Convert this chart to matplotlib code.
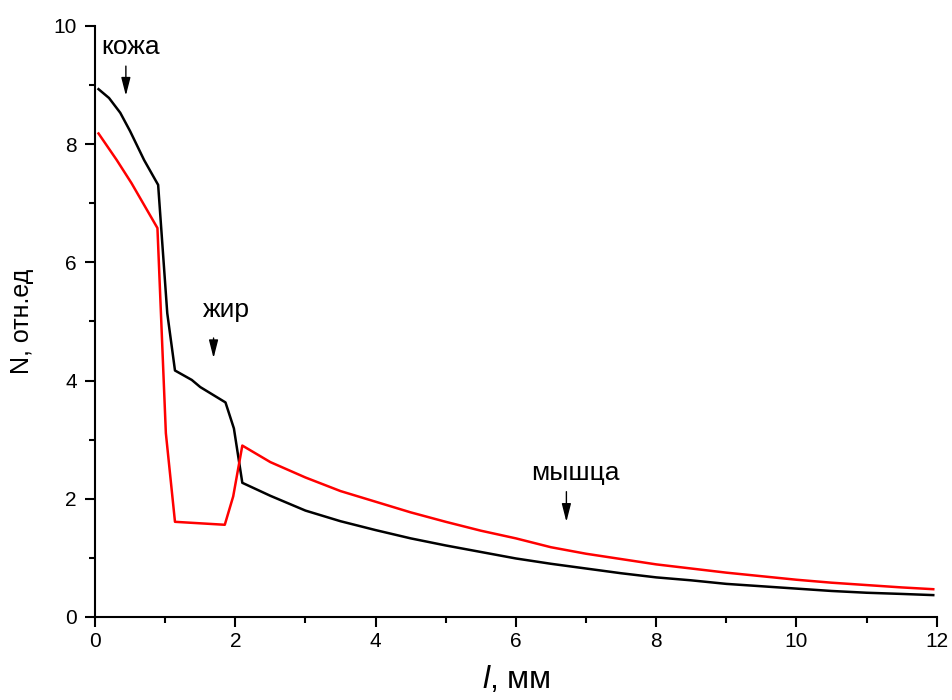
import matplotlib.pyplot as plt
from matplotlib.ticker import MultipleLocator

plt.rcParams['font.family'] = ['Liberation Sans', 'DejaVu Sans']
plt.rcParams['mathtext.fontset'] = 'custom'
plt.rcParams['mathtext.it'] = 'Liberation Sans:italic'

# черная кривая
x_black = [0.05, 0.2, 0.36, 0.5, 0.7, 0.9, 1.03, 1.14, 1.38, 1.5, 1.86, 1.98, 2.1,
           2.5, 3.0, 3.5, 4.0, 4.5, 5.0, 5.5, 6.0, 6.5, 7.0, 7.5, 8.0, 8.5, 9.0,
           9.5, 10.0, 10.5, 11.0, 11.5, 11.95]
y_black = [8.93, 8.78, 8.53, 8.22, 7.73, 7.31, 5.14, 4.17, 4.01, 3.89, 3.63, 3.19, 2.27,
           2.05, 1.80, 1.62, 1.47, 1.33, 1.21, 1.10, 0.99, 0.90, 0.82, 0.74, 0.67, 0.62, 0.56,
           0.52, 0.48, 0.44, 0.41, 0.39, 0.37]

# красная кривая
x_red = [0.05, 0.31, 0.52, 0.89, 1.01, 1.14, 1.85, 1.97, 2.1,
         2.5, 3.0, 3.5, 4.0, 4.5, 5.0, 5.5, 6.0, 6.5, 7.0, 7.5, 8.0, 8.5, 9.0,
         9.5, 10.0, 10.5, 11.0, 11.5, 11.95]
y_red = [8.18, 7.73, 7.34, 6.58, 3.11, 1.61, 1.56, 2.04, 2.90,
         2.62, 2.36, 2.13, 1.95, 1.77, 1.61, 1.46, 1.33, 1.18, 1.07, 0.98, 0.89, 0.82, 0.75,
         0.69, 0.63, 0.58, 0.54, 0.50, 0.47]

# подписи слоев: текст, позиция текста, начало и конец стрелки
labels = ['кожа', 'жир', 'мышца']
label_xy = [(0.5, 9.65), (1.87, 5.19), (6.85, 2.44)]
arrow_x = [0.44, 1.69, 6.72]
arrow_y0 = [9.32, 4.72, 2.12]
arrow_y1 = [8.82, 4.38, 1.61]

fig = plt.figure(figsize=(9.52, 7.0), dpi=100)
ax = fig.add_axes([0.0998, 0.1186, 0.8842, 0.8444])

ax.plot(x_black, y_black, color='black', lw=1.8)
ax.plot(x_red, y_red, color='red', lw=1.8)

for t, (tx, ty), ax_, a0, a1 in zip(labels, label_xy, arrow_x, arrow_y0, arrow_y1):
    ax.text(tx, ty, t, fontsize=19, ha='center', va='center')
    ax.annotate('', xy=(ax_, a1), xytext=(ax_, a0),
                arrowprops=dict(arrowstyle='-|>,head_length=1.1,head_width=0.28',
                                color='black', lw=1.0, shrinkA=0, shrinkB=0))

ax.set_xlim(0, 12)
ax.set_ylim(0, 10)
ax.xaxis.set_major_locator(MultipleLocator(2))
ax.xaxis.set_minor_locator(MultipleLocator(1))
ax.yaxis.set_major_locator(MultipleLocator(2))
ax.yaxis.set_minor_locator(MultipleLocator(1))

for s in ['top', 'right']:
    ax.spines[s].set_visible(False)
for s in ['left', 'bottom']:
    ax.spines[s].set_linewidth(1.5)

ax.tick_params(which='major', direction='out', length=7, width=1.5, labelsize=15)
ax.tick_params(axis='y', which='major', pad=6)
ax.tick_params(axis='x', which='major', pad=4)
ax.tick_params(which='minor', direction='out', length=4, width=1.5)

ax.set_xlabel(r'$\mathit{l}$, мм', fontsize=23, labelpad=9)
ax.set_ylabel('N, отн.ед', fontsize=18, labelpad=14)

fig.savefig('out.png', dpi=100)
